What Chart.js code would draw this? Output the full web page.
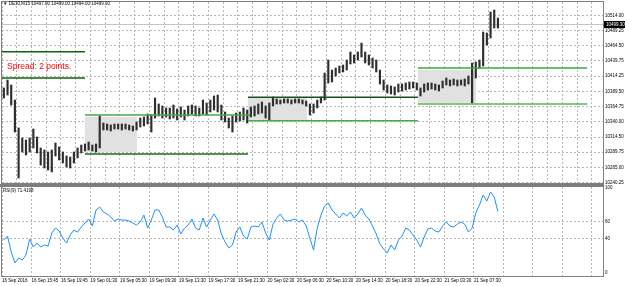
<!DOCTYPE html>
<html>
<head>
<meta charset="utf-8">
<title>DE30,M15</title>
<script src="https://cdn.jsdelivr.net/npm/chart.js@4.4.1/dist/chart.umd.min.js"></script>
<style>
  body { margin: 0; background: #fff; }
  #chart-box { position: relative; width: 625px; height: 286px; overflow: hidden; font-family: 'Liberation Sans', Arial, sans-serif; }
  #chart-box canvas { position: absolute; left: 0; }
  .note { position: absolute; white-space: nowrap; line-height: 1; color: #000; }
  #symbol { left: 3px; top: 2px; font-size: 4.5px; }
  #rsiName { left: 3px; top: 189px; font-size: 4.5px; }
  #spread { left: 7px; top: 62px; font-size: 8.5px; color: #ff0000; }
  #split { position: absolute; left: 0; top: 184px; width: 604px; height: 3px; background: #7d7d7d; }
</style>
</head>
<body>
<div id="chart-box">
  <canvas id="priceChart" width="625" height="185" style="top:0"></canvas>
  <canvas id="rsiChart" width="625" height="101" style="top:185px"></canvas>
  <div id="split"></div>
  <div class="note" id="symbol">▼ DE30,M15 10497.00 10499.00 10494.00 10499.30</div>
  <div class="note" id="rsiName">RSI(9) 71.4198</div>
  <div class="note" id="spread">Spread: 2 points.</div>
</div>
<script>
// 30-minute bars, slot i sits at x = i + 0.5
const slots = 163
const timeLabels = ['16 Sep 2016', '16 Sep 15:45', '16 Sep 19:45', '19 Sep 01:30', '19 Sep 05:30', '19 Sep 09:30',
    '19 Sep 13:30', '19 Sep 17:30', '19 Sep 21:30', '20 Sep 02:30', '20 Sep 06:30', '20 Sep 10:30',
    '20 Sep 14:30', '20 Sep 18:30', '20 Sep 22:30', '21 Sep 03:30', '21 Sep 07:30']
const priceTicks = [10240.25, 10265.00, 10289.75, 10314.50, 10340.00, 10364.75,
    10389.50, 10414.25, 10439.75, 10464.50, 10489.25, 10514.00]
const rsiTicks = [0, 40, 60, 100]

const high = [10395.0, 10408.1, 10399.9, 10375.3, 10329.5, 10313.1, 10309.8, 10313.1, 10327.8, 10314.7,
    10296.7, 10293.5, 10290.2, 10293.5, 10304.9, 10298.4, 10290.2, 10283.6, 10282.0, 10290.2,
    10296.7, 10301.6, 10303.3, 10306.5, 10301.6, 10303.3, 10349.1, 10337.6, 10336.0, 10334.4,
    10336.0, 10336.0, 10336.0, 10336.0, 10334.4, 10332.7, 10339.3, 10345.8, 10347.5, 10352.4,
    10350.8, 10378.6, 10368.8, 10365.5, 10362.2, 10362.2, 10367.1, 10360.6, 10363.9, 10358.9,
    10365.5, 10367.1, 10365.5, 10362.2, 10375.3, 10370.4, 10375.3, 10381.9, 10383.5, 10367.1,
    10355.7, 10345.8, 10349.1, 10354.0, 10355.7, 10362.2, 10358.9, 10363.9, 10365.5, 10368.8,
    10372.0, 10365.5, 10370.4, 10380.2, 10377.0, 10375.3, 10377.0, 10377.0, 10375.3, 10377.0,
    10377.0, 10375.3, 10373.7, 10368.8, 10368.8, 10375.3, 10380.2, 10419.5, 10440.8, 10424.4,
    10427.7, 10431.0, 10432.6, 10440.8, 10453.9, 10449.0, 10453.9, 10468.6, 10453.9, 10449.0,
    10444.1, 10440.8, 10424.4, 10408.1, 10399.9, 10398.3, 10396.6, 10401.5, 10401.5, 10403.2,
    10404.8, 10404.8, 10403.2, 10395.0, 10401.5, 10403.2, 10403.2, 10401.5, 10399.9, 10406.4,
    10411.3, 10408.1, 10409.7, 10408.1, 10408.1, 10409.7, 10414.6, 10435.9, 10437.5, 10440.8,
    10486.6, 10485.0, 10519.4, 10522.7, 10509.6]
const low = [10378.6, 10383.5, 10367.1, 10322.9, 10247.6, 10290.2, 10285.3, 10290.2, 10296.7, 10288.6,
    10268.9, 10264.0, 10260.7, 10257.5, 10283.6, 10277.1, 10272.2, 10265.6, 10264.0, 10272.2,
    10280.4, 10288.6, 10291.8, 10293.5, 10291.8, 10290.2, 10296.7, 10326.2, 10326.2, 10324.5,
    10327.8, 10327.8, 10326.2, 10327.8, 10326.2, 10324.5, 10326.2, 10331.1, 10332.7, 10336.0,
    10322.9, 10345.8, 10349.1, 10345.8, 10347.5, 10344.2, 10345.8, 10342.6, 10347.5, 10342.6,
    10349.1, 10352.4, 10349.1, 10349.1, 10352.4, 10350.8, 10355.7, 10358.9, 10355.7, 10342.6,
    10339.3, 10329.5, 10322.9, 10339.3, 10340.9, 10342.6, 10337.6, 10347.5, 10349.1, 10352.4,
    10354.0, 10345.8, 10342.6, 10365.5, 10368.8, 10368.8, 10370.4, 10370.4, 10368.8, 10370.4,
    10370.4, 10368.8, 10365.5, 10350.8, 10354.0, 10362.2, 10370.4, 10375.3, 10403.2, 10404.8,
    10414.6, 10419.5, 10421.2, 10424.4, 10434.3, 10435.9, 10440.8, 10445.7, 10435.9, 10432.6,
    10427.7, 10421.2, 10401.5, 10391.7, 10386.8, 10385.1, 10383.5, 10388.4, 10390.1, 10391.7,
    10393.3, 10395.0, 10391.7, 10381.9, 10388.4, 10391.7, 10393.3, 10391.7, 10390.1, 10395.0,
    10399.9, 10398.3, 10399.9, 10398.3, 10399.9, 10398.3, 10401.5, 10370.4, 10411.3, 10427.7,
    10431.0, 10465.4, 10476.8, 10493.2, 10493.2]
const rsi = [38.1, 42.8, 24.1, 11.2, 17.0, 14.7, 20.5, 39.3, 29.9, 34.6,
    29.9, 32.3, 31.1, 46.4, 52.2, 48.7, 40.5, 34.6, 44.0, 49.9,
    47.5, 53.4, 58.1, 62.8, 54.6, 73.4, 76.9, 71.0, 68.7, 65.1,
    60.4, 62.8, 61.6, 61.6, 60.4, 58.1, 55.8, 59.3, 67.5, 52.2,
    61.6, 73.4, 73.4, 65.1, 53.4, 53.4, 49.9, 55.8, 45.2, 52.2,
    55.8, 62.8, 52.2, 49.9, 64.0, 53.4, 61.6, 68.7, 61.6, 45.2,
    35.8, 28.8, 32.3, 47.5, 53.4, 42.8, 39.3, 53.4, 54.6, 53.4,
    59.3, 46.4, 38.1, 56.9, 64.0, 68.7, 61.6, 60.4, 61.6, 62.8,
    59.3, 61.6, 54.6, 40.5, 26.4, 52.2, 67.5, 78.1, 81.6, 73.4,
    68.7, 64.0, 69.8, 66.3, 71.0, 64.0, 68.7, 75.7, 67.5, 62.8,
    54.6, 45.2, 33.5, 27.6, 22.9, 32.3, 26.4, 38.1, 42.8, 52.2,
    49.9, 44.0, 38.1, 29.9, 41.7, 51.1, 52.2, 48.7, 47.5, 54.6,
    59.3, 54.6, 53.4, 56.9, 59.3, 56.9, 47.5, 52.2, 69.8, 79.2,
    91.0, 83.9, 94.5, 88.6, 71.4]
const bid = 10499.30

// horizontal levels (slot range + price) and shaded zones
const levelPrice = [10454.4, 10411.3, 10350.8, 10286.9, 10379.8, 10341.5, 10427.7, 10368.8]
const levelFrom = [0, 0, 22.5, 22.5, 66.7, 66.7, 112.8, 112.8]
const levelTo = [22.5, 22.5, 67.3, 66.7, 112.8, 112.8, 158.7, 158.7]
const levelColors = ['#0b640b', '#0b640b', '#46ad46', '#167016', '#1d4f1d', '#46ad46', '#3da83d', '#52b852']
const zoneFrom = [22.5, 66.7, 112.8]
const zoneTo = [36.6, 82.7, 128.6]
const zoneTop = [10347.5, 10378.6, 10424.4]
const zoneBottom = [10290.2, 10342.6, 10370.4]

const gridColor = '#b8b8b8'
const tickFont = {family: 'Liberation Sans', size: 4.5}

const frame = {
    id: 'frame',
    afterDraw(chart) {
        const {ctx, chartArea: a} = chart
        ctx.save()
        ctx.strokeStyle = '#808080'
        ctx.lineWidth = 1
        ctx.strokeRect(a.left - 0.5, a.top - 0.5, a.right - a.left + 1, a.bottom - a.top + 1)
        ctx.restore()
    }
}

const priceExtras = {
    id: 'priceExtras',
    beforeDatasetsDraw(chart) {
        const {ctx, chartArea: a, scales: {x, y}} = chart
        ctx.save()
        ctx.fillStyle = '#e1e1e1'
        zoneFrom.forEach((f, i) => {
            const x0 = x.getPixelForValue(f), x1 = x.getPixelForValue(zoneTo[i])
            const y0 = y.getPixelForValue(zoneTop[i]), y1 = y.getPixelForValue(zoneBottom[i])
            ctx.fillRect(x0, y0, x1 - x0, y1 - y0)
        })
        const by = Math.round(y.getPixelForValue(bid)) + 0.5
        ctx.strokeStyle = '#c4c4c4'
        ctx.beginPath()
        ctx.moveTo(a.left, by)
        ctx.lineTo(a.right, by)
        ctx.stroke()
        ctx.restore()
    },
    afterDraw(chart) {
        const {ctx, chartArea: a, scales: {y}} = chart
        const by = Math.round(y.getPixelForValue(bid))
        ctx.save()
        ctx.fillStyle = '#000'
        ctx.fillRect(a.right + 1, by - 3, 22, 7)
        ctx.fillStyle = '#fff'
        ctx.font = '4.5px "Liberation Sans"'
        ctx.textBaseline = 'middle'
        ctx.fillText(bid.toFixed(2), a.right + 3, by + 0.5)
        ctx.restore()
    }
}

const levelSets = levelPrice.map((p, i) => ({
    type: 'line',
    data: [{x: levelFrom[i], y: p}, {x: levelTo[i], y: p}],
    borderColor: levelColors[i],
    borderWidth: 1.5,
    pointRadius: 0,
    order: 1
}))

new Chart(document.querySelector('#priceChart'), {
    type: 'bar',
    data: {
        datasets: [{
            data: high.map((h, i) => ({x: i + 0.5, y: [low[i], h]})),
            backgroundColor: '#2e2e2e',
            barThickness: 1.5,
            order: 2
        }, ...levelSets]
    },
    options: {
        responsive: false,
        animation: false,
        layout: {padding: {left: 2, top: 2, right: 0, bottom: 2}},
        plugins: {legend: {display: false}, tooltip: {enabled: false}},
        scales: {
            x: {
                type: 'linear', min: 0, max: slots, offset: false,
                afterBuildTicks: ax => { ax.ticks = Array.from({length: 41}, (_, k) => ({value: k * 4})) },
                ticks: {display: false},
                grid: {color: gridColor, drawTicks: false, offset: false},
                border: {display: false, dash: [2, 2]},
                afterFit: ax => { ax.height = 0; ax.paddingLeft = 0; ax.paddingRight = 0 }
            },
            y: {
                position: 'right', min: 10239.4, max: 10535.8, beginAtZero: false,
                afterBuildTicks: ax => { ax.ticks = priceTicks.map(v => ({value: v})) },
                ticks: {font: tickFont, color: '#000', padding: 2, callback: v => v.toFixed(2)},
                grid: {color: gridColor, drawTicks: false},
                border: {display: false, dash: [2, 2]},
                afterFit: ax => { ax.width = 22; ax.paddingTop = 0; ax.paddingBottom = 0 }
            }
        }
    },
    plugins: [priceExtras, frame]
})

new Chart(document.querySelector('#rsiChart'), {
    type: 'line',
    data: {
        datasets: [{
            data: rsi.map((v, i) => ({x: i + 0.5, y: v})),
            borderColor: '#1e90ff',
            borderWidth: 1,
            pointRadius: 0,
            tension: 0
        }]
    },
    options: {
        responsive: false,
        animation: false,
        layout: {padding: {left: 2, top: 2, right: 0, bottom: 0}},
        plugins: {legend: {display: false}, tooltip: {enabled: false}},
        scales: {
            x: {
                type: 'linear', min: 0, max: slots,
                afterBuildTicks: ax => { ax.ticks = Array.from({length: 21}, (_, k) => ({value: k * 8})) },
                ticks: {font: tickFont, color: '#000', padding: 2, align: 'start', autoSkip: false, maxRotation: 0,
                    callback: (v, i) => timeLabels[i] || ''},
                grid: {color: gridColor, drawTicks: false},
                border: {display: false, dash: [2, 2]},
                afterFit: ax => { ax.height = 10; ax.paddingLeft = 0; ax.paddingRight = 0 }
            },
            y: {
                position: 'right', min: -4.1, max: 100.4,
                afterBuildTicks: ax => { ax.ticks = rsiTicks.map(v => ({value: v})) },
                ticks: {font: tickFont, color: '#000', padding: 2, callback: v => String(v)},
                grid: {color: c => (c.tick && (c.tick.value === 40 || c.tick.value === 60)) ? gridColor : 'rgba(0,0,0,0)', drawTicks: false},
                border: {display: false, dash: [2, 2]},
                afterFit: ax => { ax.width = 22; ax.paddingTop = 0; ax.paddingBottom = 0 }
            }
        }
    },
    plugins: [frame]
})
</script>
</body>
</html>
